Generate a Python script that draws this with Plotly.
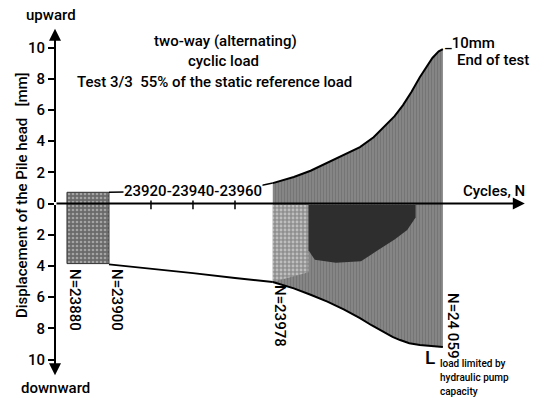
import plotly.graph_objects as go

# ---------------- data ----------------
rect_cycles = [23880, 23900]          # first recorded block of cycles
rect_disp = [0.72, -3.85]             # top / bottom displacement of that block (mm)

drift_cycles = [23900, 23920, 23940, 23960, 23978]
drift_disp = [-3.9, -4.16, -4.46, -4.78, -5.03]

link_cycles = [23900, 23962, 23978]
link_disp = [0.72, 0.85, 1.31]

env_up_cycles = [23978, 23988, 23996, 24004, 24012, 24019.5, 24026, 24032, 24036,
                 24040, 24044, 24048, 24051, 24054, 24057, 24059]
env_up_disp = [1.31, 1.70, 2.10, 2.60, 3.10, 3.62, 4.25, 5.03, 5.60,
               6.31, 7.15, 8.10, 8.75, 9.33, 9.75, 9.90]

env_low_cycles = [23978, 23988, 23996, 24004, 24012, 24019.5, 24025, 24030.5, 24035,
                  24038.6, 24043, 24048, 24053, 24059]
env_low_disp = [-5.03, -5.44, -5.85, -6.29, -6.80, -7.34, -7.80, -8.22, -8.55,
                -8.75, -8.95, -9.07, -9.14, -9.20]

dark_cycles = [23995, 23998, 24008, 24020, 24028, 24036, 24042, 24046, 24046, 23995]
dark_disp = [-3.0, -3.6, -3.8, -3.7, -3.0, -2.3, -1.7, -0.9, -0.1, -0.1]

light_cycles = [23978, 23995, 23995, 23978]
light_disp = [-0.1, -0.1, -4.4, -5.03]

tick_cycles = [23920, 23940, 23960]
tick_label = "23920-23940-23960"

y_tick_vals = [-10, -8, -6, -4, -2, 0, 2, 4, 6, 8, 10]
y_tick_text = ["10", "8", "6", "4", "2", "0", "2", "4", "6", "8", "10"]

x_range = [23874.3, 24101.9]
y_range = [-10.99, 11.25]

FONT = "Roboto, Liberation Sans, sans-serif"

W, H = 533, 400
ML, MR, MT, MB = 55, 0, 28, 25
PW, PH = W - ML - MR, H - MT - MB


def px(xp):
    return (xp - ML) / PW


def py(yp):
    return 1 - (yp - MT) / PH


fig = go.Figure()

# envelope polygon
fig.add_trace(go.Scatter(
    x=env_up_cycles + env_low_cycles[::-1],
    y=env_up_disp + env_low_disp[::-1],
    fill="toself", mode="lines", line=dict(width=0),
    fillcolor="#7a7a7a",
    fillpattern=dict(shape="|", fgcolor="#505050", bgcolor="#858585",
                     size=3, solidity=0.2, fillmode="overlay"),
    hoverinfo="skip", showlegend=False))

# light speckled area
fig.add_trace(go.Scatter(
    x=light_cycles, y=light_disp, fill="toself", mode="lines", line=dict(width=0),
    fillcolor="#a8a8a8",
    fillpattern=dict(shape=".", fgcolor="#eeeeee", bgcolor="#8f8f8f",
                     size=4, solidity=0.4, fillmode="overlay"),
    hoverinfo="skip", showlegend=False))

# dark core
fig.add_trace(go.Scatter(
    x=dark_cycles, y=dark_disp, fill="toself", mode="lines",
    line=dict(width=0),
    fillcolor="#2e2e2e",
    hoverinfo="skip", showlegend=False))

# first block rectangle
rx = [rect_cycles[0], rect_cycles[1], rect_cycles[1], rect_cycles[0], rect_cycles[0]]
ry = [rect_disp[0], rect_disp[0], rect_disp[1], rect_disp[1], rect_disp[0]]
fig.add_trace(go.Scatter(
    x=rx, y=ry, fill="toself", mode="lines", line=dict(color="#333", width=1),
    fillcolor="#777777",
    fillpattern=dict(shape=".", fgcolor="#dddddd", bgcolor="#6a6a6a",
                     size=4, solidity=0.35, fillmode="overlay"),
    hoverinfo="skip", showlegend=False))

# edge lines
for xs, ys, w in [(env_up_cycles, env_up_disp, 2), (env_low_cycles, env_low_disp, 2),
                  (drift_cycles, drift_disp, 2), (link_cycles, link_disp, 1.5)]:
    fig.add_trace(go.Scatter(x=xs, y=ys, mode="lines", line=dict(color="black", width=w),
                             hoverinfo="skip", showlegend=False))

# cycle ticks on the zero line
fig.add_trace(go.Scatter(
    x=tick_cycles, y=[0] * len(tick_cycles), mode="markers",
    marker=dict(symbol="line-ns", size=8, line=dict(color="black", width=1.5)),
    hoverinfo="skip", showlegend=False))

anns = []
# axes arrows
anns.append(dict(x=x_range[0], y=11.2, ax=x_range[0], ay=0, xref="x", yref="y", axref="x", ayref="y",
                 showarrow=True, arrowhead=2, arrowsize=1.2, arrowwidth=2, arrowcolor="black", text=""))
anns.append(dict(x=x_range[0], y=-11.0, ax=x_range[0], ay=0, xref="x", yref="y", axref="x", ayref="y",
                 showarrow=True, arrowhead=2, arrowsize=1.2, arrowwidth=2, arrowcolor="black", text=""))
anns.append(dict(x=24098, y=0, ax=x_range[0], ay=0, xref="x", yref="y", axref="x", ayref="y",
                 showarrow=True, arrowhead=2, arrowsize=1.2, arrowwidth=2, arrowcolor="black", text=""))


def txt(t, x, y, size=15, xa="center", ya="middle", angle=0, bg=None):
    d = dict(text=t, x=px(x), y=py(y), xref="paper", yref="paper", showarrow=False,
             xanchor=xa, yanchor=ya, textangle=angle,
             font=dict(family=FONT, size=size, color="black", weight=500))
    if bg:
        d["bgcolor"] = bg
        d["borderpad"] = 0
    anns.append(d)


txt("upward", 51, 15)
txt("downward", 55, 399, ya="bottom")
txt("Displacement of the Pile head&#160;&#160;&#160;[mm]", 22, 195, angle=-90)
txt("two-way (alternating)", 225, 41)
txt("cyclic load", 223, 61)
txt("Test 3/3&#160;&#160;55% of the static reference load", 214, 82)
txt("_10mm", 443, 43, xa="left")
txt("End of test", 455, 60, xa="left")
txt("Cycles, N", 527, 191, xa="right")
txt(tick_label, 193, 191, bg="white")
txt("N=23880", 75, 300, angle=90)
txt("N=23900", 117, 300, angle=90)
txt("N=23978", 280, 316, angle=90)
txt("N=24 059", 453, 325, angle=90)
txt("L", 430, 357, size=19)
txt("load limited by", 438, 363, size=10, xa="left")
txt("hydraulic pump", 438, 377, size=10, xa="left")
txt("capacity", 438, 391, size=10, xa="left")

fig.update_layout(
    width=W, height=H,
    margin=dict(l=ML, r=MR, t=MT, b=MB),
    paper_bgcolor="white", plot_bgcolor="white",
    xaxis=dict(range=x_range, visible=False, showgrid=False, zeroline=False),
    yaxis=dict(range=y_range, showgrid=False, zeroline=False, showline=False,
               tickvals=y_tick_vals, ticktext=y_tick_text,
               ticks="outside", ticklen=6, tickwidth=1.5, tickcolor="black",
               tickfont=dict(family=FONT, size=15, color="black", weight=500)),
    annotations=anns,
    showlegend=False,
)

fig.write_html("out.html", config={"displayModeBar": False},
               post_script="document.body.style.margin='0';document.body.style.overflow='hidden';")
